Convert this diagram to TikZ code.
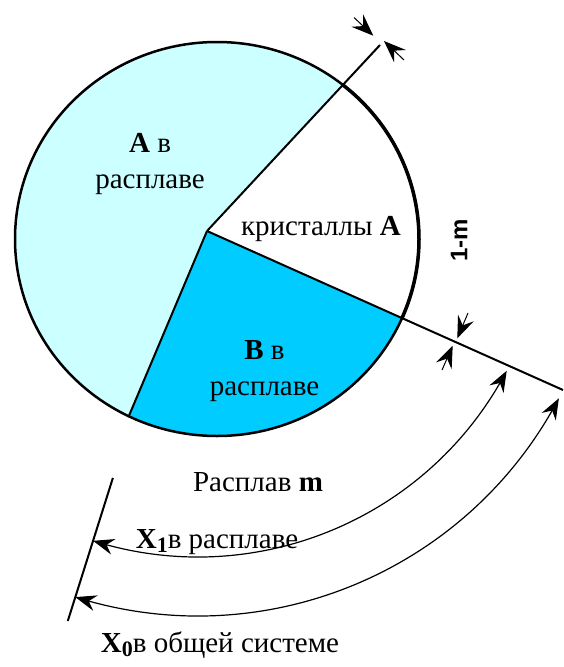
\documentclass[tikz,border=0pt]{standalone}
\usepackage{fontspec}
\setmainfont{Liberation Serif}
\newfontfamily\arialfont{Liberation Sans}
\usetikzlibrary{arrows.meta,bending,calc}
\definecolor{meltA}{RGB}{204,255,255}
\definecolor{meltB}{RGB}{0,204,255}
\newcommand{\bsub}[1]{\raisebox{-0.3ex}{\fontsize{22}{22}\selectfont\textbf{#1}}}
\begin{document}
\begin{tikzpicture}[x=1pt,y=-1pt,
  every node/.style={inner sep=0pt},
  lbl/.style={font=\fontsize{29}{36}\selectfont, align=center},
  rad/.style={line width=2pt},
  outline/.style={line width=2.5pt},
  dimtip/.style={-{Stealth[length=22pt,width=17pt,inset=8pt]}},
  arcline/.style={line width=1.2pt,
    {Stealth[length=21pt,width=16pt,inset=7pt]}-{Stealth[length=21pt,width=16pt,inset=7pt]}}]
\useasboundingbox (0,0) rectangle (563,667);
% geometry
\coordinate (O) at (217,239);
\coordinate (V) at (207,231);
\coordinate (P1) at ($(O)+(-51.4:202 and 197)$);
\coordinate (P2) at ($(O)+(23.8:202 and 197)$);
\coordinate (P3) at ($(O)+(115.9:202 and 197)$);
\coordinate (E1) at (380,45);
\coordinate (E2) at (563,390);
% fills
\fill[meltA] (O) ellipse[x radius=202, y radius=197];
\fill[white] (V) -- (P1) arc[start angle=-51.4, end angle=23.8, x radius=202, y radius=197] -- cycle;
\fill[meltB] (V) -- (P2) arc[start angle=23.8, end angle=115.9, x radius=202, y radius=197] -- cycle;
\draw[outline] (O) ellipse[x radius=202, y radius=197];
\draw[line width=3.5pt] (P1) arc[start angle=-51.4, end angle=23.8, x radius=202, y radius=197];
% radial lines
\draw[rad] (V) -- (E1);
\draw[rad] (V) -- (E2);
\draw[rad] (V) -- (P3);
% dimension arrows
\coordinate (a1b) at (354,17.5); \coordinate (a1t) at (373.3,35.7);
\coordinate (a2b) at (404,60);   \coordinate (a2t) at (384,41);
\coordinate (a3b) at (468,313);  \coordinate (a3t) at (457.3,338.3);
\coordinate (a4b) at (442,370);  \coordinate (a4t) at (452.7,345.7);
\draw[line width=1pt, dimtip] (a1b) -- (a1t);
\draw[line width=1pt, dimtip] (a2b) -- (a2t);
\draw[line width=1pt, dimtip] (a3b) -- (a3t);
\draw[line width=1pt, dimtip] (a4b) -- (a4t);
% left radial line and arcs
\coordinate (O2) at (198,208);
\coordinate (L1) at ($(O2)+(107.5:283)$);
\coordinate (L2) at ($(O2)+(107.5:433)$);
\draw[rad] (L1) -- (L2);
\coordinate (X1s) at ($(O2)+(27.8:349)$);
\coordinate (X0s) at ($(O2)+(27.8:408)$);
\draw[arcline] (X1s) arc[start angle=27.8, end angle=107.5, radius=349];
\draw[arcline] (X0s) arc[start angle=27.8, end angle=107.5, radius=408];
% labels
\node[lbl] (nA) at (150,164.5) {\textbf{A} в\\расплаве};
\node[lbl] (nB) at (264.5,371.5) {\textbf{B} в\\расплаве};
\node[lbl, anchor=base] (nK) at (321,235) {кристаллы \textbf{A}};
\node[lbl, anchor=base] (nM) at (258,491) {Расплав \textbf{m}};
\node[lbl, anchor=base] (nX1) at (217,548) {\textbf{X}\bsub{1}в расплаве};
\node[lbl, anchor=base] (nX0) at (220,652) {\textbf{X}\bsub{0}в общей системе};
\node[font=\arialfont\bfseries\fontsize{24}{28}\selectfont, rotate=90] (n1m) at (459,240) {1-m};
\end{tikzpicture}
\end{document}
